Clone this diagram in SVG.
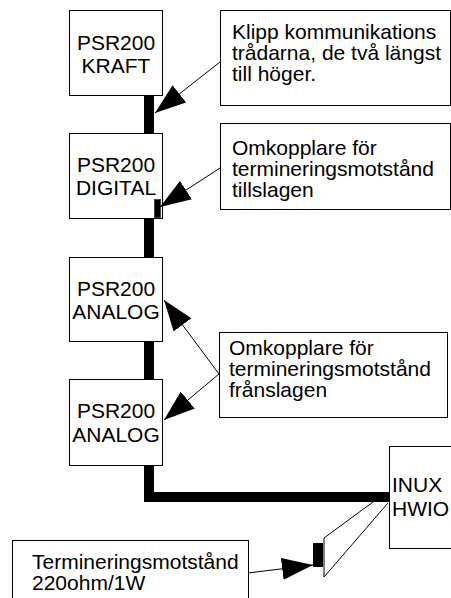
<svg xmlns="http://www.w3.org/2000/svg" width="451" height="598" viewBox="0 0 451 598">
<style>
.box{fill:#fff;stroke:#000;stroke-width:1}
.t{font-family:"Liberation Sans",Arial,sans-serif;font-size:21px;fill:#000}
.c{text-anchor:middle}
.ln{fill:none;stroke:#000;stroke-width:1}
.bus{fill:none;stroke:#000;stroke-width:10;stroke-linejoin:miter;stroke-linecap:butt}
</style>
<defs>
<marker id="ah" markerUnits="userSpaceOnUse" markerWidth="31" markerHeight="22" refX="31" refY="11" orient="auto">
<path d="M0,0 L31,11 L0,22 Z" fill="#000"/>
</marker>
</defs>
<g id="bus">
<polyline class="bus" points="149,95 149,497 389,497"/>
</g>
<g id="kraft">
<rect class="box" x="69.5" y="10.5" width="93" height="85"/>
<text class="t c" x="116" y="50">PSR200</text>
<text class="t c" x="116" y="73">KRAFT</text>
</g>
<g id="digital">
<rect class="box" x="69.5" y="133.5" width="93" height="85"/>
<text class="t c" x="116" y="172">PSR200</text>
<text class="t c" x="116" y="195">DIGITAL</text>
<rect x="154.5" y="199.5" width="6" height="18" fill="#000" stroke="#444" stroke-width="1"/>
</g>
<g id="analog1">
<rect class="box" x="69.5" y="257.5" width="93" height="84"/>
<text class="t c" x="116" y="296">PSR200</text>
<text class="t c" x="116" y="319">ANALOG</text>
</g>
<g id="analog2">
<rect class="box" x="69.5" y="379.5" width="93" height="86"/>
<text class="t c" x="116" y="418">PSR200</text>
<text class="t c" x="116" y="442">ANALOG</text>
</g>
<g id="inux">
<rect class="box" x="389.5" y="446.5" width="70" height="102"/>
<text class="t" x="392" y="492">INUX</text>
<text class="t" x="392" y="516">HWIO</text>
</g>
<g id="klipp">
<rect class="box" x="220.5" y="10.5" width="230" height="95"/>
<text class="t" x="232" y="39">Klipp kommunikations</text>
<text class="t" x="232" y="60">trådarna, de två längst</text>
<text class="t" x="232" y="81">till höger.</text>
</g>
<g id="tillslagen">
<rect class="box" x="220.5" y="123.5" width="230" height="86"/>
<text class="t" x="232" y="155">Omkopplare för</text>
<text class="t" x="232" y="176">termineringsmotstånd</text>
<text class="t" x="232" y="197">tillslagen</text>
</g>
<g id="franslagen">
<rect class="box" x="219.5" y="332.5" width="228" height="85"/>
<text class="t" x="229" y="355">Omkopplare för</text>
<text class="t" x="229" y="376">termineringsmotstånd</text>
<text class="t" x="229" y="397">frånslagen</text>
</g>
<g id="terminering">
<rect class="box" x="12.5" y="540.5" width="236" height="70"/>
<text class="t" x="32" y="569">Termineringsmotstånd</text>
<text class="t" x="32" y="590">220ohm/1W</text>
</g>
<g id="resistor">
<rect x="313" y="543" width="10" height="24" fill="#000"/>
<polyline class="ln" points="373,502 324,538 324,577 388,503"/>
</g>
<g id="connectors">
<line class="ln" x1="220" y1="62" x2="155" y2="113" marker-end="url(#ah)"/>
<line class="ln" x1="220" y1="168" x2="160" y2="207" marker-end="url(#ah)"/>
<line class="ln" x1="219" y1="374" x2="164" y2="300" marker-end="url(#ah)"/>
<line class="ln" x1="219" y1="374" x2="164" y2="420" marker-end="url(#ah)"/>
<line class="ln" x1="248" y1="573" x2="313" y2="565" marker-end="url(#ah)"/>
</g>
</svg>
